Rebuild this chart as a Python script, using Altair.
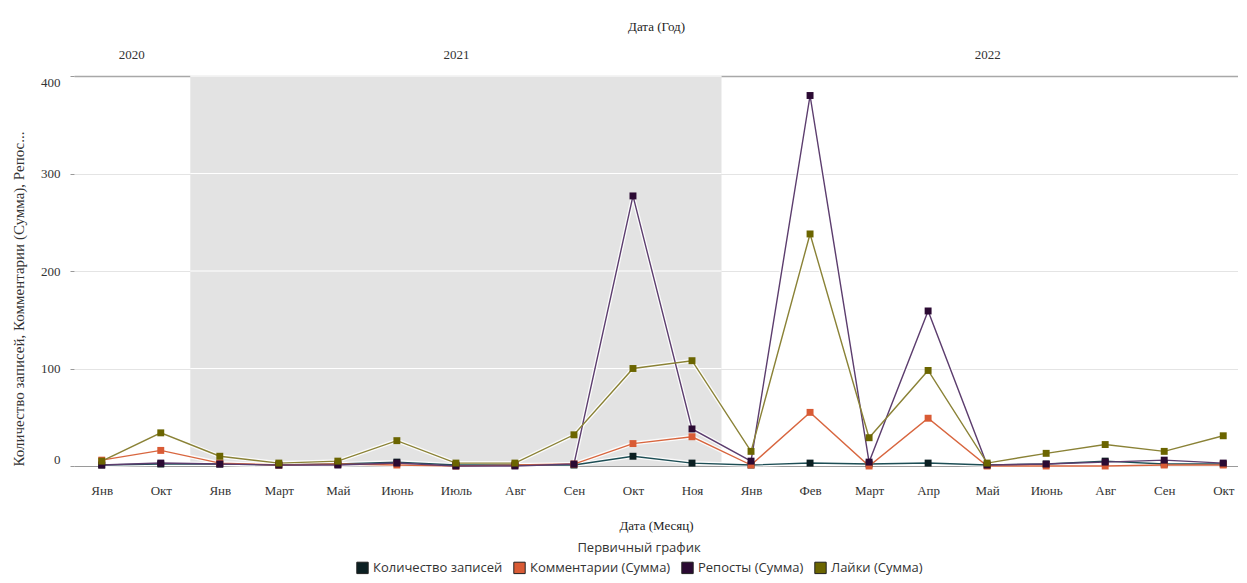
import altair as alt
import pandas as pd

# ---- data ----
months = ['Янв', 'Окт', 'Янв', 'Март', 'Май', 'Июнь', 'Июль', 'Авг', 'Сен', 'Окт',
          'Ноя', 'Янв', 'Фев', 'Март', 'Апр', 'Май', 'Июнь', 'Авг', 'Сен', 'Окт']
years = [2020, 2020, 2021, 2021, 2021, 2021, 2021, 2021, 2021, 2021,
         2021, 2022, 2022, 2022, 2022, 2022, 2022, 2022, 2022, 2022]
records = [1, 2, 2, 1, 2, 4, 1, 1, 1, 10, 3, 1, 3, 2, 3, 1, 2, 5, 2, 2]
comments = [6, 16, 3, 1, 2, 1, 0, 1, 2, 23, 30, 1, 55, 0, 49, 0, 0, 0, 1, 1]
reposts = [1, 3, 2, 1, 1, 3, 0, 0, 2, 277, 38, 5, 380, 4, 159, 1, 2, 4, 6, 3]
likes = [5, 34, 10, 3, 5, 26, 3, 3, 32, 100, 108, 15, 238, 29, 98, 3, 13, 22, 15, 31]
series_names = ['Количество записей', 'Комментарии (Сумма)', 'Репосты (Сумма)', 'Лайки (Сумма)']
line_colors = ['#1d4e55', '#d8663f', '#5c3d6e', '#8a8236']
marker_colors = ['#0b1f22', '#d95b35', '#2b0a33', '#6b6500']
y_ticks = [0, 100, 200, 300, 400]

# ---- tables ----
idx = list(range(len(months)))
rows = []
for name, vals in zip(series_names, [records, comments, reposts, likes]):
    for i, v in zip(idx, vals):
        rows.append({'i': i, 'series': name, 'line_series': name, 'value': v,
                     'month': months[i], 'year': years[i]})
df = pd.DataFrame(rows)

yr = pd.DataFrame({'i': idx, 'year': years})
ygrp = yr.groupby('year')['i'].agg(['min', 'max']).reset_index()
ygrp['c'] = (ygrp['min'] + ygrp['max']) / 2
band = ygrp[ygrp['year'] == 2021].copy()
band['x1'] = band['min'] - 0.5
band['x2'] = band['max'] + 0.5
grid_df = pd.DataFrame({'value': y_ticks[1:]})
grid_df['x1'] = float(band['x1'].iloc[0])
grid_df['x2'] = float(band['x2'].iloc[0])

W, H = 1164, 390
xdom = [-0.47, 19.25]
SERIF = 'Liberation Serif'
label_expr = "[" + ",".join(f"'{m}'" for m in months) + "][datum.value]"
year_expr = ""
for _, r in ygrp.iterrows():
    year_expr += f"datum.value == {r['c']} ? '{int(r['year'])}' : "
year_expr += "''"

def xs():
    return alt.Scale(domain=xdom, nice=False, zero=False)

yscale = alt.Scale(domain=[0, 400], nice=False)

x_axis = alt.Axis(
    values=idx, labelExpr=label_expr, title='Дата (Месяц)', grid=False, ticks=False,
    domainColor='#9a9a9a', labelFont=SERIF, labelFontSize=13, labelColor='#333',
    labelPadding=18, titleFont=SERIF, titleFontSize=13, titleFontWeight='normal',
    titlePadding=22, titleColor='#222', labelOverlap=False)
y_main = alt.Y('value:Q', scale=yscale, axis=alt.Axis(
    values=y_ticks, title='Количество записей, Комментарии (Сумма), Репос...',
    grid=True, gridColor='#e4e4e4', domain=False, ticks=True, tickColor='#999',
    tickSize=4, labelFlush=True, labelFont=SERIF, labelFontSize=13, labelColor='#333',
    labelPadding=10, titleFont=SERIF, titleFontSize=15, titleFontWeight='normal',
    titleColor='#333', titleAnchor='start', titlePadding=14))

base = alt.Chart(df)

band_layer = alt.Chart(band).mark_rect(color='#e3e3e3').encode(
    x=alt.X('x1:Q', scale=xs(), axis=None), x2='x2:Q',
    y=alt.value(0), y2=alt.value(H))

grid_layer = alt.Chart(grid_df).mark_rule(color='white', strokeWidth=1).encode(
    x=alt.X('x1:Q', scale=xs(), axis=None), x2='x2:Q',
    y=y_main)

halo = base.mark_line(color='white', strokeWidth=4, opacity=0.85).encode(
    x=alt.X('i:Q', scale=xs(), axis=x_axis), y=y_main, detail='series:N', order='i:Q')

# reversed domain/range: same mapping, but keeps this (legend-less) scale
# from being merged with the legend of the markers
lines = base.mark_line(strokeWidth=1.4).encode(
    x=alt.X('i:Q', scale=xs(), axis=None), y=y_main,
    stroke=alt.Stroke('line_series:N',
                      scale=alt.Scale(domain=series_names[::-1], range=line_colors[::-1]),
                      legend=None),
    order='i:Q')

points = base.mark_square(size=48, opacity=1).encode(
    x=alt.X('i:Q', scale=xs(), axis=None), y=y_main,
    color=alt.Color('series:N', scale=alt.Scale(domain=series_names, range=marker_colors),
                    legend=alt.Legend(title='Первичный график', orient='none',
                                      legendX=282, legendY=466,
                                      direction='horizontal', titleAnchor='middle',
                                      titleOrient='top',
                                      titleFont='Open Sans', titleFontSize=13,
                                      titleFontWeight='normal',
                                      titleColor='#333', labelFont='Open Sans', labelFontSize=13,
                                      labelColor='#333', symbolType='square', symbolSize=130,
                                      symbolStrokeColor='#222', symbolStrokeWidth=1,
                                      columnPadding=8, titlePadding=6)),
    tooltip=['month:N', 'year:O', 'series:N', 'value:Q'])

year_layer = alt.Chart(ygrp).mark_point(opacity=0).encode(
    x=alt.X('c:Q', scale=xs(), axis=alt.Axis(
        orient='top', values=list(ygrp['c']), labelExpr=year_expr, title='Дата (Год)',
        ticks=False, grid=False, domainColor='#a8a8a8', domainWidth=1.5, labelFont=SERIF,
        labelFontSize=13, labelColor='#333', labelPadding=15, titleFont=SERIF,
        titleFontSize=13, titleFontWeight='normal', titleColor='#222', titlePadding=15)),
    y=alt.value(0))

chart = alt.layer(band_layer, grid_layer, halo, lines, points, year_layer).resolve_scale(
    x='independent'
).properties(
    width=W, height=H, padding={'top': 12, 'left': 3, 'right': 0, 'bottom': 0},
    background='white'
).configure_view(stroke=None)

chart.save('out.html', embed_options={'renderer': 'svg', 'actions': False})
